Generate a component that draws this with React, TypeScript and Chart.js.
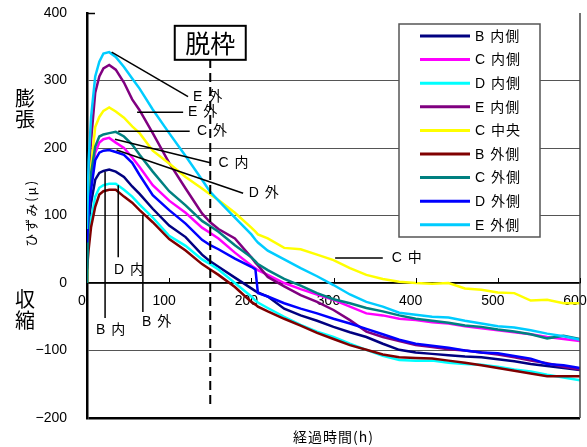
import { useEffect, useRef } from 'react';
import { Chart, registerables } from 'chart.js';

Chart.register(...registerables);

// elapsed time (h)
const hours = [0, 2, 5, 10, 15, 20, 27, 35, 45, 55, 64, 80, 100, 120, 140, 150, 160, 180, 200, 205, 208, 220, 240, 260, 280, 300, 320, 340, 360, 380, 400, 420, 440, 460, 480, 500, 520, 540, 560, 580, 600];

// strain (μ) per gauge
const bInner = [60, 90, 119, 153, 163, 166, 168, 165, 157, 143, 132, 110, 85, 68, 42, 32, 24, 8, -8, -12, -14, -20, -38, -48, -56, -65, -73, -80, -90, -99, -103, -105, -107, -109, -110, -113, -116, -120, -123, -126, -129];
const cInner = [60, 130, 153, 193, 208, 213, 215, 208, 200, 186, 172, 145, 122, 104, 82, 74, 66, 45, 26, 22, 19, 12, 0, -9, -17, -25, -35, -45, -48, -53, -55, -58, -60, -64, -67, -70, -73, -76, -80, -83, -86];
const dInner = [70, 80, 93, 128, 141, 145, 147, 147, 138, 128, 116, 97, 70, 55, 35, 28, 20, 0, -20, -26, -29, -37, -50, -62, -72, -80, -90, -99, -108, -114, -115, -115, -118, -120, -121, -124, -128, -131, -136, -140, -144];
const eInner = [70, 160, 212, 282, 306, 318, 323, 316, 297, 272, 256, 222, 178, 140, 103, 90, 80, 66, 38, 30, 26, 9, -5, -18, -28, -40, -55, -72, -80, -86, -92, -95, -98, -100, -103, -106, -110, -115, -119, -124, -128];
const cCenter = [0, 120, 172, 231, 246, 255, 260, 254, 245, 232, 222, 196, 177, 157, 140, 131, 123, 104, 82, 76, 72, 66, 52, 50, 42, 34, 22, 12, 6, 2, 0, -1, 0, -8, -10, -14, -15, -26, -25, -30, -30];
const bOuter = [20, 50, 83, 113, 131, 136, 138, 138, 128, 119, 108, 90, 65, 48, 28, 20, 12, -6, -28, -32, -35, -42, -53, -63, -74, -83, -92, -99, -106, -110, -111, -112, -115, -118, -122, -126, -130, -134, -138, -138, -138];
const cOuter = [0, 100, 163, 202, 217, 220, 222, 224, 217, 205, 190, 165, 136, 115, 92, 84, 76, 56, 38, 32, 28, 19, 6, -4, -15, -24, -30, -37, -42, -48, -53, -56, -59, -63, -65, -69, -72, -76, -82, -78, -83];
const dOuter = [60, 110, 138, 182, 193, 196, 197, 194, 190, 178, 160, 130, 108, 88, 64, 56, 50, 36, 24, 20, -15, -20, -30, -38, -45, -53, -60, -68, -76, -84, -90, -93, -96, -100, -103, -104, -108, -112, -120, -122, -126];
const eOuter = [80, 180, 246, 306, 328, 340, 342, 335, 320, 303, 288, 257, 222, 188, 153, 135, 122, 97, 72, 64, 60, 48, 35, 22, 10, -3, -17, -28, -35, -44, -47, -50, -51, -56, -60, -64, -66, -70, -75, -79, -84];

const seriesNames = ['B 内側', 'C 内側', 'D 内側', 'E 内側', 'C 中央', 'B 外側', 'C 外側', 'D 外側', 'E 外側'];
const seriesValues = [bInner, cInner, dInner, eInner, cCenter, bOuter, cOuter, dOuter, eOuter];
const seriesColors = ['#000080', '#FF00FF', '#00FFFF', '#800080', '#FFFF00', '#800000', '#008080', '#0000FF', '#00CCFF'];

const xTicks = [0, 100, 200, 300, 400, 500, 600];

// callouts: [label, from h, from μ, to h, to μ, label h, label μ]
const callouts: [string, number, number, number, number, number, number][] = [
  ['E 外', 30, 342, 123, 276, 129, 276],
  ['E 外', 61, 253, 117, 253, 123, 253],
  ['C 外', 38, 225, 125, 225, 134, 225],
  ['C 内', 34, 213, 150, 178, 160, 178],
  ['D 外', 36, 197, 190, 133, 197, 133],
  ['D 内', 38, 145, 38, 38, 33, 19],
  ['B 内', 22, 165, 22, -52, 11, -70],
  ['B 外', 68, 101, 68, -43, 67, -58],
  ['C 中', 302, 37, 360, 37, 371, 37],
];
const releaseHour = 150;

const FONT = '"Liberation Sans", "Noto Sans CJK JP", sans-serif';
const JP = '"Noto Sans CJK JP", sans-serif';

export default function App() {
  const ref = useRef<HTMLCanvasElement>(null);
  useEffect(() => {
    document.body.style.margin = '0';
    const canvas = ref.current!;
    const overlay = {
      id: 'overlay',
      afterDatasetsDraw(chart: any) {
        const ctx = chart.ctx as CanvasRenderingContext2D;
        const xs = chart.scales.x;
        const ys = chart.scales.y;
        const px = (v: number) => xs.getPixelForValue(v);
        const py = (v: number) => ys.getPixelForValue(v);
        const area = chart.chartArea;
        ctx.save();
        // right border
        ctx.strokeStyle = '#444';
        ctx.lineWidth = 1.5;
        ctx.beginPath();
        ctx.moveTo(area.right, area.top);
        ctx.lineTo(area.right, area.bottom);
        ctx.stroke();
        // x tick marks upward on zero line
        ctx.strokeStyle = '#000';
        ctx.lineWidth = 1;
        xTicks.forEach((t) => {
          if (t === 0) return;
          const x = Math.round(px(t)) + 0.5;
          ctx.beginPath();
          ctx.moveTo(x, py(0));
          ctx.lineTo(x, py(0) - 5);
          ctx.stroke();
        });
        // y tick inward at top
        ctx.lineWidth = 1.5;
        ctx.beginPath();
        ctx.moveTo(area.left, py(400) + 0.5);
        ctx.lineTo(area.left + 8, py(400) + 0.5);
        ctx.stroke();

        // callouts
        ctx.strokeStyle = '#000';
        ctx.lineWidth = 1.5;
        ctx.fillStyle = '#000';
        ctx.font = `14px ${FONT}`;
        ctx.textBaseline = 'middle';
        ctx.textAlign = 'left';
        (ctx as any).letterSpacing = '1px';
        callouts.forEach(([label, h1, v1, h2, v2, th, tv]) => {
          ctx.beginPath();
          ctx.moveTo(px(h1), py(v1));
          ctx.lineTo(px(h2), py(v2));
          ctx.stroke();
          ctx.fillText(label, px(th), py(tv));
        });

        // dashed release line and box
        const bx = px(releaseHour);
        ctx.setLineDash([9, 5]);
        ctx.lineWidth = 2;
        ctx.beginPath();
        ctx.moveTo(bx, py(332));
        ctx.lineTo(bx, py(-186));
        ctx.stroke();
        ctx.setLineDash([]);
        const boxW = 71, boxH = 34;
        const boxTop = py(381);
        ctx.fillStyle = '#fff';
        ctx.fillRect(bx - boxW / 2, boxTop, boxW, boxH);
        ctx.lineWidth = 2;
        ctx.strokeRect(bx - boxW / 2, boxTop, boxW, boxH);
        ctx.fillStyle = '#000';
        ctx.textAlign = 'center';
        (ctx as any).letterSpacing = '0px';
        ctx.font = `25px ${JP}`;
        ctx.fillText('脱枠', bx, boxTop + boxH / 2 + 1);

        // legend
        const lx = 399, ly = 24, lw = 141, lh = 213;
        ctx.fillStyle = '#fff';
        ctx.fillRect(lx, ly, lw, lh);
        ctx.strokeStyle = '#555';
        ctx.lineWidth = 1.5;
        ctx.strokeRect(lx, ly, lw, lh);
        ctx.font = `14px ${FONT}`;
        ctx.textAlign = 'left';
        (ctx as any).letterSpacing = '1px';
        seriesNames.forEach((name, i) => {
          const y = 36 + i * 23.6;
          ctx.strokeStyle = seriesColors[i];
          ctx.lineWidth = 3;
          ctx.beginPath();
          ctx.moveTo(420, y);
          ctx.lineTo(470, y);
          ctx.stroke();
          ctx.fillStyle = '#000';
          ctx.fillText(name, 475, y + 1);
        });

        // axis texts
        (ctx as any).letterSpacing = '0px';
        ctx.textAlign = 'center';
        ctx.font = `20px ${JP}`;
        ctx.fillText('膨', 25, py(274));
        ctx.fillText('張', 25, py(243));
        ctx.fillText('収', 25, py(-24));
        ctx.fillText('縮', 25, py(-55));
        ctx.save();
        ctx.translate(31, py(104));
        ctx.rotate(-Math.PI / 2);
        ctx.font = `13px ${JP}`;
        (ctx as any).letterSpacing = '2px';
        ctx.fillText('ひずみ(μ)', 0, 0);
        ctx.restore();
        ctx.font = `14px ${JP}`;
        (ctx as any).letterSpacing = '1px';
        ctx.fillText('経過時間(h)', (area.left + area.right) / 2, 437);
        ctx.restore();
      },
    };

    const chart = new Chart(canvas, {
      type: 'line',
      data: {
        labels: hours,
        datasets: seriesNames.map((name, i) => ({
          label: name,
          data: hours.map((h, j) => ({ x: h, y: seriesValues[i][j] })),
          borderColor: seriesColors[i],
          backgroundColor: seriesColors[i],
          borderWidth: 2.5,
          pointRadius: 0,
          tension: 0,
          fill: false,
          order: seriesNames.length - 1 - i,
        })),
      },
      options: {
        responsive: false,
        animation: false,
        devicePixelRatio: 1,
        layout: { padding: { top: 13, right: 7, bottom: 29, left: 0 } },
        plugins: { legend: { display: false }, tooltip: { enabled: false } },
        scales: {
          x: {
            type: 'linear',
            min: 0,
            max: 600,
            position: { y: 0 } as any,
            afterBuildTicks: (s: any) => { s.ticks = xTicks.map((v) => ({ value: v })); },
            afterFit: (s: any) => { s.paddingLeft = 0; s.paddingRight = 0; s.paddingTop = 0; s.paddingBottom = 0; },
            grid: { display: true, drawOnChartArea: false, drawTicks: false },
            border: { display: true, color: '#000', width: 1.5 },
            ticks: {
              color: '#000',
              font: { family: FONT, size: 14 },
              padding: 10,
              labelOffset: -5,
              maxRotation: 0,
              autoSkip: false,
            },
          },
          y: {
            min: -200,
            max: 400,
            position: 'left',
            afterFit: (s: any) => { s.width = 87; s.paddingTop = 0; s.paddingBottom = 0; s.paddingLeft = 0; s.paddingRight = 0; },
            grid: {
              drawTicks: false,
              color: (c: any) => (c.tick && c.tick.value === 400 ? 'rgba(0,0,0,0)' : c.tick && c.tick.value === -200 ? '#000' : '#555'),
              lineWidth: (c: any) => (c.tick && c.tick.value === -200 ? 2.5 : 1),
            },
            border: { display: true, color: '#000', width: 2.5 },
            ticks: {
              stepSize: 100,
              color: '#000',
              font: { family: FONT, size: 14 },
              padding: 20,
              callback: (v: any) => String(v).replace('-', '−'),
            },
          },
        },
      },
      plugins: [overlay],
    });
    return () => chart.destroy();
  }, []);
  return (
    <div style={{ width: 587, height: 447 }}>
      <canvas ref={ref} width={587} height={447} style={{ display: 'block' }} />
    </div>
  );
}
